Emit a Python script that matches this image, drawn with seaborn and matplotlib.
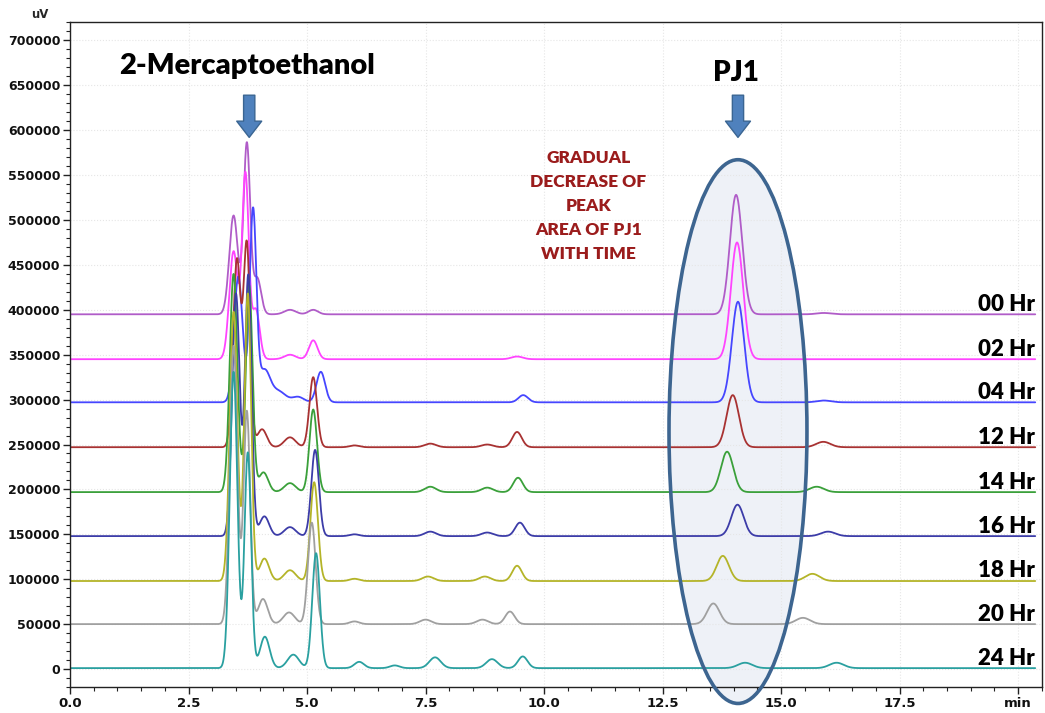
import numpy as np
import pandas as pd
import matplotlib
matplotlib.use("Agg")
import matplotlib.pyplot as plt
from matplotlib.patches import Ellipse
from matplotlib.ticker import MultipleLocator
import seaborn as sns

# ---------------- data ----------------
labels = ["00 Hr", "02 Hr", "04 Hr", "12 Hr", "14 Hr", "16 Hr", "18 Hr", "20 Hr", "24 Hr"]
baselines = [395000, 345000, 297000, 247000, 197000, 148000, 98000, 50000, 1000]
colors = ["#b05cc8", "#ff44ff", "#4646ff", "#a83232", "#3aa03a",
          "#3c3ca8", "#b4b428", "#a0a0a0", "#2aa0a0"]

# peaks: (retention time [min], height above baseline [uV], width [min])
pk_00 = [(3.45, 110000, .09), (3.73, 190000, .07), (3.95, 40000, .08), (4.64, 5000, .12),
         (5.13, 5000, .10), (14.05, 133000, .13), (15.9, 1500, .15)]
pk_02 = [(3.45, 120000, .09), (3.70, 205000, .07), (3.92, 55000, .08), (4.64, 5000, .12),
         (5.13, 21000, .09), (9.43, 3000, .12), (14.07, 130000, .13)]
pk_04 = [(3.55, 140000, .09), (3.86, 212000, .07), (4.10, 35000, .12), (4.40, 12000, .15),
         (4.81, 6000, .12), (5.29, 34000, .09), (9.56, 8000, .10), (14.09, 112000, .13),
         (15.9, 2000, .15)]
pk_12 = [(3.52, 208000, .08), (3.73, 223000, .07), (4.05, 20000, .10), (4.64, 11000, .12),
         (5.13, 78000, .08), (6.0, 2000, .10), (7.6, 4000, .12), (8.8, 3000, .12),
         (9.43, 17000, .10), (13.98, 58000, .13), (15.89, 6000, .15)]
pk_14 = [(3.45, 243000, .08), (3.78, 230000, .07), (4.08, 22000, .10), (4.64, 10000, .12),
         (5.13, 92000, .08), (7.6, 6000, .12), (8.8, 5000, .12), (9.45, 16000, .10),
         (13.86, 45000, .13), (15.75, 6000, .15)]
pk_16 = [(3.50, 270000, .08), (3.76, 290000, .07), (4.10, 22000, .10), (4.64, 10000, .12),
         (5.17, 96000, .08), (6.0, 2000, .10), (7.6, 5000, .12), (8.8, 4000, .12),
         (9.49, 15000, .10), (14.08, 35000, .13), (15.99, 5000, .15)]
pk_18 = [(3.45, 300000, .08), (3.75, 320000, .07), (4.10, 25000, .10), (4.64, 12000, .12),
         (5.15, 110000, .08), (6.0, 2500, .10), (7.55, 5000, .12), (8.75, 5000, .12),
         (9.43, 17000, .10), (13.77, 28000, .13), (15.66, 8000, .15)]
pk_20 = [(3.45, 310000, .08), (3.73, 237000, .07), (4.07, 28000, .10), (4.62, 13000, .12),
         (5.10, 113000, .08), (6.0, 3000, .10), (7.5, 5000, .12), (8.7, 5000, .12),
         (9.28, 14000, .10), (13.57, 23000, .13), (15.46, 7000, .15)]
pk_24 = [(3.45, 330000, .08), (3.75, 240000, .07), (4.11, 35000, .10), (4.71, 15000, .12),
         (5.19, 128000, .08), (6.1, 7000, .10), (6.85, 3000, .10), (7.7, 12000, .12),
         (8.9, 10000, .12), (9.55, 13000, .10), (14.24, 6000, .15), (16.17, 6000, .15)]
peak_tables = [pk_00, pk_02, pk_04, pk_12, pk_14, pk_16, pk_18, pk_20, pk_24]

x_ticks = [0.0, 2.5, 5.0, 7.5, 10.0, 12.5, 15.0, 17.5, 20.0]
x_ticklabels = ["0.0", "2.5", "5.0", "7.5", "10.0", "12.5", "15.0", "17.5", "min"]
y_ticks = [0, 50000, 100000, 150000, 200000, 250000, 300000, 350000,
           400000, 450000, 500000, 550000, 600000, 650000, 700000]

run_end = 20.36
me_peak_time = 3.78
pj1_peak_time = 14.09

# ---------------- build long table ----------------
t = np.linspace(0, run_end, 4000)
rows = []
for lab, base, pks in zip(labels, baselines, peak_tables):
    sig = np.full_like(t, float(base))
    for (rt, h, w) in pks:
        sig += h * np.exp(-0.5 * ((t - rt) / w) ** 2)
    rows.append(pd.DataFrame({"time": t, "signal": sig, "run": lab}))
df = pd.concat(rows, ignore_index=True)

# ---------------- plot ----------------
sns.set_theme(style="ticks")
plt.rcParams["font.family"] = ["DejaVu Sans"]

fig = plt.figure(figsize=(10.45, 7.13), dpi=100)
ax = fig.add_axes([0.067, 0.0365, 0.930, 0.932])

# ellipse fill behind traces
ell_cx, ell_cy, ell_w, ell_h = pj1_peak_time, 264400, 2.91, 605500
ax.add_patch(Ellipse((ell_cx, ell_cy), ell_w, ell_h, facecolor="#eef1f7",
                     edgecolor="none", zorder=0.5, clip_on=False))

sns.lineplot(data=df, x="time", y="signal", hue="run", hue_order=labels,
             palette=colors, estimator=None, sort=False, linewidth=1.3,
             legend=False, ax=ax, zorder=2)

ax.add_patch(Ellipse((ell_cx, ell_cy), ell_w, ell_h, facecolor="none",
                     edgecolor="#3d6590", linewidth=2.6, zorder=5, clip_on=False))

ax.set_xlim(0, 20.5)
ax.set_ylim(-20000, 720000)
ax.set_xlabel("")
ax.set_ylabel("")
ax.set_xticks(x_ticks)
ax.set_xticklabels(x_ticklabels)
ax.set_yticks(y_ticks)
ax.set_yticklabels([str(v) for v in y_ticks])
ax.xaxis.set_minor_locator(MultipleLocator(0.5))
ax.yaxis.set_minor_locator(MultipleLocator(10000))
ax.grid(True, which="major", color="#e6e6e6", linestyle=":", linewidth=0.8, zorder=0)
ax.set_axisbelow(True)
for s in ax.spines.values():
    s.set_visible(True)
    s.set_color("#222222")
    s.set_linewidth(1.0)
ax.tick_params(axis="both", which="major", direction="out", length=5, width=1,
               color="#222222", pad=2)
ax.tick_params(axis="both", which="minor", direction="out", length=3, width=0.8,
               color="#222222")
tick_font = ["DejaVu Sans"]
for lab in ax.get_yticklabels():
    lab.set_family(tick_font)
    lab.set_fontweight("bold")
    lab.set_fontsize(9)
    lab.set_color("#111111")
for lab in ax.get_xticklabels():
    lab.set_family(tick_font)
    lab.set_fontweight("bold")
    lab.set_fontsize(9.5)
    lab.set_color("#111111")

fig.text(40 / 1045, 1 - 15 / 713, "uV", ha="center", va="center",
         fontsize=8.5, fontweight="bold", family=tick_font)

# annotations
title_font = ["Lato", "DejaVu Sans"]
ax.text(me_peak_time - 0.05, 671000, "2-Mercaptoethanol", ha="center", va="center",
        fontsize=21, fontweight="heavy", family=title_font, color="black")
ax.text(pj1_peak_time - 0.05, 664000, "PJ1", ha="center", va="center",
        fontsize=20, fontweight="heavy", family=title_font, color="black")

arrow_kw = dict(arrowstyle="simple,head_length=0.65,head_width=1.0,tail_width=0.45",
                fc="#4f81bd", ec="#3a6592", lw=1, mutation_scale=18,
                shrinkA=0, shrinkB=0)
for xa in (me_peak_time, pj1_peak_time):
    ax.annotate("", xy=(xa, 592000), xytext=(xa, 639000), arrowprops=arrow_kw, zorder=6)

ax.text(10.93, 515500, "GRADUAL\nDECREASE OF\nPEAK\nAREA OF PJ1\nWITH TIME",
        ha="center", va="center", fontsize=12.5, fontweight="heavy", family=title_font,
        color="#9b1c1c", linespacing=1.6)

for lab, base in zip(labels, baselines):
    ax.text(20.36, base + 4000, lab, ha="right", va="baseline", fontsize=16,
            fontweight="heavy", family=title_font, color="black", zorder=7)

fig.savefig("out.png", dpi=100)
